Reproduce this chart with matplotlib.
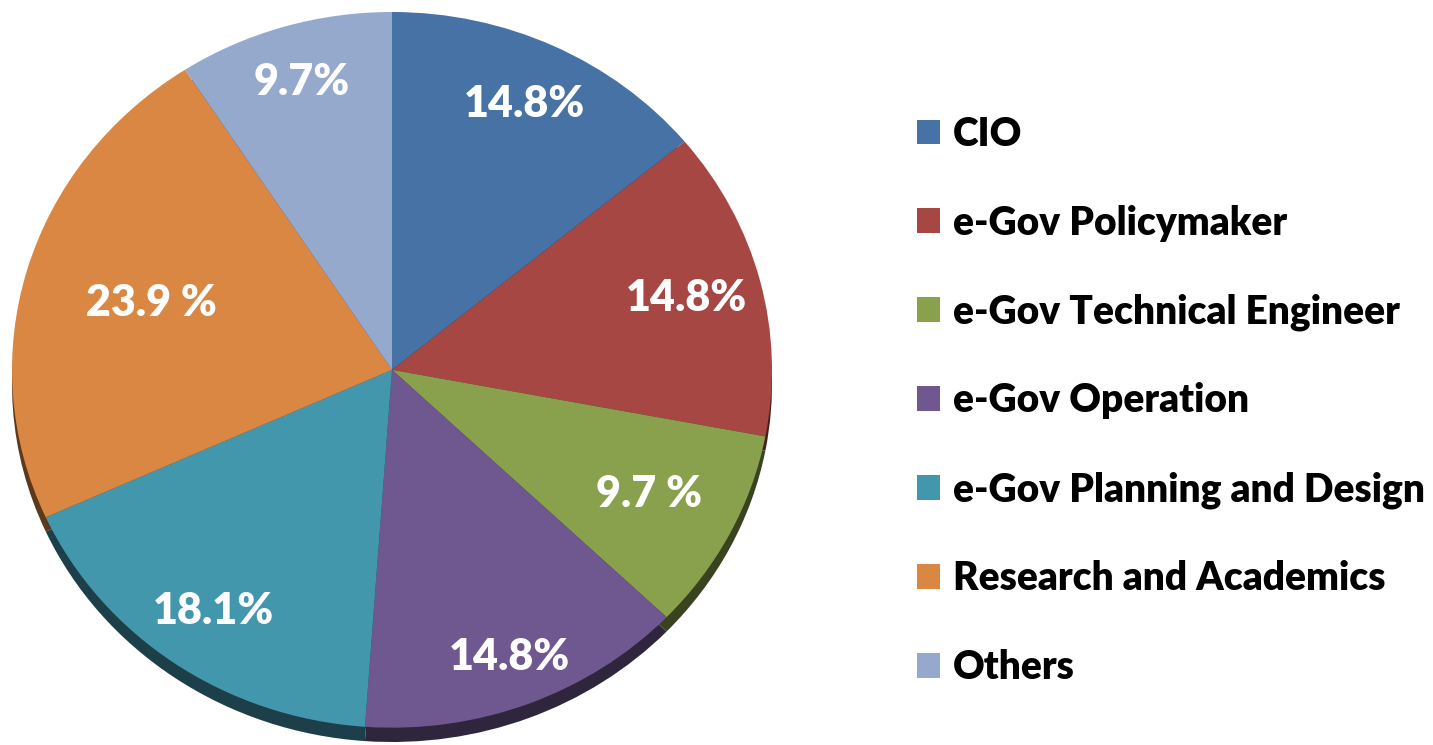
import matplotlib
matplotlib.use("Agg")
import matplotlib.pyplot as plt
import matplotlib.colors as mcolors

categories = ["CIO", "e-Gov Policymaker", "e-Gov Technical Engineer",
              "e-Gov Operation", "e-Gov Planning and Design",
              "Research and Academics", "Others"]
shares = [14.8, 14.8, 9.7, 14.8, 18.1, 23.9, 9.7]
share_labels = ["14.8%", "14.8%", "9.7 %", "14.8%", "18.1%", "23.9 %", "9.7%"]
colors = ["#4672A6", "#A74744", "#89A04D", "#6F5790", "#4397AD", "#DA8743", "#94A9CC"]

# radial position of each label (the labels were nudged by hand in the original)
label_r = [0.82, 0.80, 0.76, 0.86, 0.82, 0.66, 0.84]

FONT = "Lato"

fig = plt.figure(figsize=(14.33, 7.45), dpi=100)
# pie is slightly squashed vertically, so use an axes with free aspect
ax = fig.add_axes([12 / 1433, 3 / 745, 760 / 1433, 730 / 745])

# dark "3D" rim under the pie
shadow = [tuple(c * 0.42 for c in mcolors.to_rgb(col)) for col in colors]
ax.pie(shares, colors=shadow, startangle=90, counterclock=False,
       center=(0, -0.04), wedgeprops=dict(linewidth=0))

wedges, texts = ax.pie(shares, colors=colors, startangle=90, counterclock=False,
                       labels=share_labels, labeldistance=0.8,
                       wedgeprops=dict(linewidth=0),
                       textprops=dict(color="white", fontsize=31,
                                      fontweight="heavy", family=FONT))
for t, r in zip(texts, label_r):
    x, y = t.get_position()
    t.set_position((x * r / 0.8, y * r / 0.8))
    t.set_ha("center")
    t.set_va("center")

ax.set_aspect("auto")
ax.set_xlim(-1, 1)
ax.set_ylim(-1.04, 1.0)
ax.axis("off")

fig.legend(wedges, categories, loc="center left",
           bbox_to_anchor=(917 / 1433, 1 - 401 / 745),
           frameon=False, borderpad=0, borderaxespad=0,
           handlelength=0.6, handleheight=0.6, handletextpad=0.33,
           labelspacing=1.33,
           prop=dict(family=FONT, weight="heavy", size=28))

fig.savefig("out.png", dpi=100, facecolor="white")
